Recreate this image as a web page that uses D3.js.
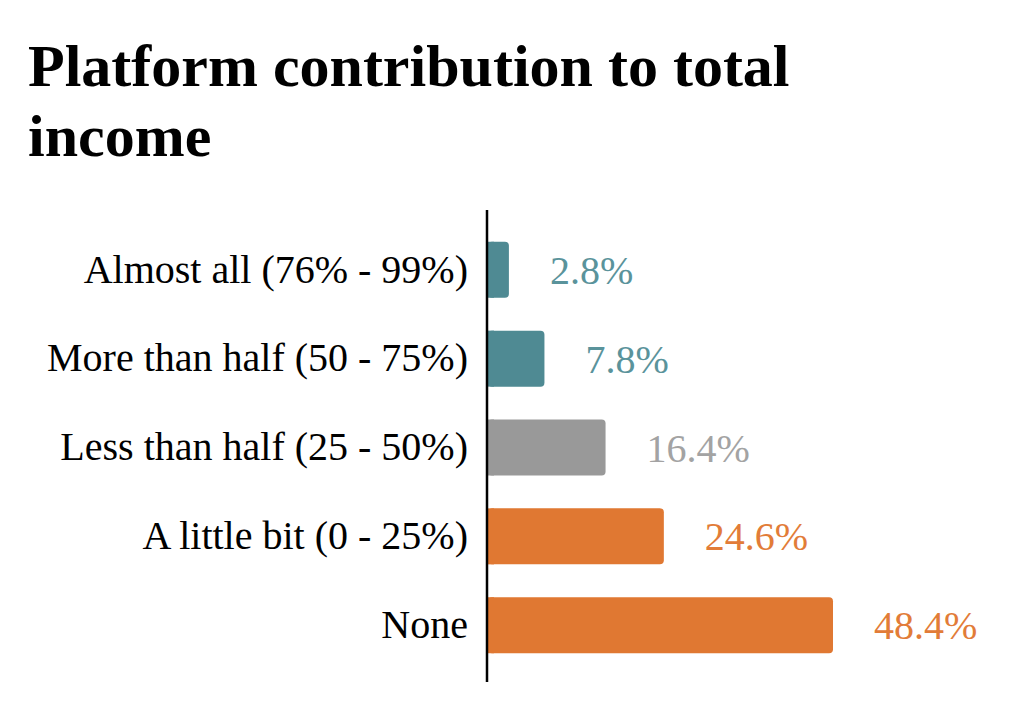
<!DOCTYPE html>
<html>
<head>
<meta charset="utf-8">
<script src="https://cdn.jsdelivr.net/npm/d3@7"></script>
<style>
  html, body { margin: 0; padding: 0; background: #fff; }
  svg { display: block; font-family: "Liberation Serif", "Times New Roman", serif; }
</style>
</head>
<body>
<svg id="chart" width="1024" height="704"></svg>
<script>
// data
const categories = [
  "Almost all (76% - 99%)",
  "More than half (50 - 75%)",
  "Less than half (25 - 50%)",
  "A little bit (0 - 25%)",
  "None"
];
const values = [2.8, 7.8, 16.4, 24.6, 48.4];
const groups = ["high", "high", "mid", "low", "low"];
const titleLines = ["Platform contribution to total", "income"];

const barColor = { high: "#4f8a93", mid: "#999999", low: "#e07832" };
const textColor = { high: "#5a939b", mid: "#a3a3a3", low: "#e27c38" };

const svg = d3.select("#chart");

// title
svg.append("g")
  .attr("class", "title")
  .selectAll("text")
  .data(titleLines)
  .join("text")
  .attr("x", 28)
  .attr("y", (d, i) => 86 + i * 70)
  .attr("font-size", 60)
  .attr("font-weight", "bold")
  .attr("fill", "#000")
  .text(d => d);

// scales
const x0 = 488;
const x = d3.scaleLinear().domain([0, 48.4]).range([x0, 832]);
const y = d3.scaleBand()
  .domain(categories)
  .range([224, 671])
  .paddingInner(0.37)
  .paddingOuter(0.2);

const plot = svg.append("g").attr("class", "plot");

// bars
plot.selectAll("rect.bar")
  .data(values)
  .join("rect")
  .attr("class", "bar")
  .attr("x", x0)
  .attr("y", (d, i) => y(categories[i]))
  .attr("width", d => x(d) - x0 + 1)
  .attr("height", y.bandwidth())
  .attr("rx", 4)
  .attr("fill", (d, i) => barColor[groups[i]]);

// square off the left corners
plot.selectAll("rect.fill")
  .data(values)
  .join("rect")
  .attr("class", "fill")
  .attr("x", x0)
  .attr("y", (d, i) => y(categories[i]))
  .attr("width", d => Math.min(6, x(d) - x0))
  .attr("height", y.bandwidth())
  .attr("fill", (d, i) => barColor[groups[i]]);

// value labels
plot.selectAll("text.value")
  .data(values)
  .join("text")
  .attr("class", "value")
  .attr("x", d => x(d) + 42)
  .attr("y", (d, i) => y(categories[i]) + y.bandwidth() / 2)
  .attr("dy", "0.35em")
  .attr("font-size", 40)
  .attr("fill", (d, i) => textColor[groups[i]])
  .text(d => d.toFixed(1) + "%");

// category axis
const axis = d3.axisLeft(y).tickSize(0).tickPadding(19);
const ag = svg.append("g")
  .attr("transform", `translate(${x0 - 1},0)`)
  .call(axis);
ag.select(".domain").remove();
ag.selectAll("text")
  .attr("font-family", "Liberation Serif, serif")
  .attr("font-size", 40)
  .attr("fill", "#000");

svg.append("line")
  .attr("x1", x0 - 1).attr("x2", x0 - 1)
  .attr("y1", 210).attr("y2", 682)
  .attr("stroke", "#000")
  .attr("stroke-width", 2.5);
</script>
</body>
</html>
